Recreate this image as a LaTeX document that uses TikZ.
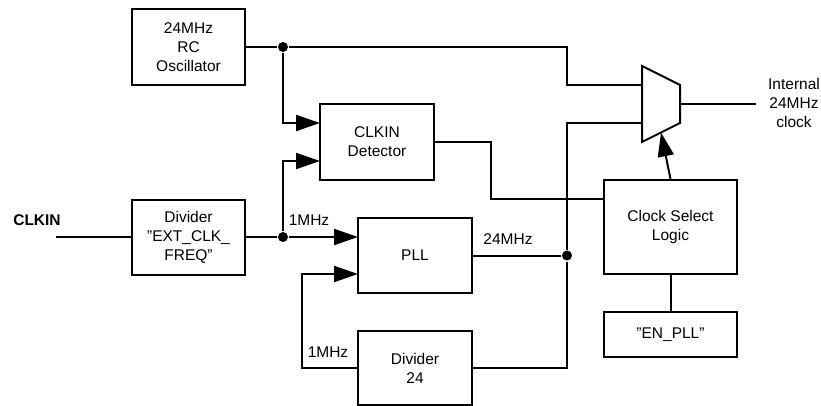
\documentclass[tikz,border=0pt]{standalone}
\usepackage{fontspec}
\setmainfont{Liberation Sans}
\usetikzlibrary{arrows.meta}

\begin{document}
\begin{tikzpicture}[x=1pt,y=-1pt,line width=2pt,>={Triangle[length=24pt,width=16pt]},
blk/.style={draw,align=center,inner sep=0pt,font=\fontsize{15.5}{19}\selectfont},
lbl/.style={align=center,inner sep=0pt,font=\fontsize{15.5}{19}\selectfont},
dot/.style={circle,fill,inner sep=0pt,minimum size=10pt}]
\useasboundingbox (0,0) rectangle (821,406);
% blocks
\node[blk,minimum width=113pt,minimum height=76pt](osc)at(188.5,47){24MHz\\RC\\Oscillator};
\node[blk,minimum width=114pt,minimum height=76pt](det)at(377,142){CLKIN\\Detector};
\node[blk,minimum width=113pt,minimum height=75pt](div)at(188.5,237){Divider\\”EXT\_CLK\_\\FREQ”};
\node[blk,minimum width=114pt,minimum height=75pt](pll)at(415,255.5){PLL};
\node[blk,minimum width=114pt,minimum height=74pt](divb)at(415,368){Divider\\24};
\node[blk,minimum width=133pt,minimum height=94pt](csl)at(670.5,227){Clock Select\\Logic};
\node[blk,minimum width=133pt,minimum height=45pt](enpll)at(670.5,334.5){”EN\_PLL”};
% mux
\draw(642,66)--(680,85)--(680,123)--(642,142)--cycle;
\coordinate(mux1)at(642,85);
\coordinate(mux2)at(642,123);
\coordinate(muxo)at(680,104);
\coordinate(muxs)at(661,132.5);
% ports and junctions
\coordinate(det1)at(320,123);
\coordinate(det2)at(320,161);
\coordinate(pll1)at(358,237);
\coordinate(pll2)at(358,274);
\coordinate(csl1)at(604,199);
\coordinate(cin)at(56,237);
\coordinate(cout)at(756,104);
\node[dot](j1)at(283,47){};
\node[dot](j2)at(283,237){};
\node[dot](j3)at(567,255.5){};
% texts
\node[lbl,font=\fontsize{15.5}{19}\selectfont\bfseries](clk)at(37,220){CLKIN};
\node[lbl](f1)at(309,220){1MHz};
\node[lbl](f2)at(328,352){1MHz};
\node[lbl](f3)at(508,239){24MHz};
\node[lbl](int)at(794,102.5){Internal\\24MHz\\clock};
% wires
\draw(cin)--(div.west);
\draw(osc.east)--(j1)--(567,47)|-(mux1);
\draw[->](j1)|-(det1);
\draw(div.east)--(j2);
\draw[->](j2)--(pll1);
\draw[->](j2)|-(det2);
\draw(det.east)-|(491,199)--(csl1);
\draw(pll.east)--(j3);
\draw(divb.east)-|(j3)|-(mux2);
\draw[->](divb.west)-|(302,274)--(pll2);
\draw(muxo)--(cout);
\draw[->](csl.north)--(muxs);
\draw(csl.south)--(enpll.north);
\end{tikzpicture}
\end{document}
